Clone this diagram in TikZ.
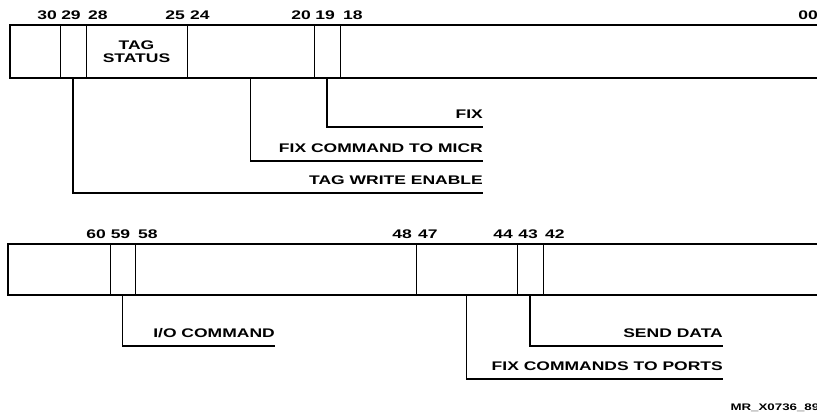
\documentclass[tikz,border=0pt]{standalone}
\usepackage{fontspec}
\setmainfont{Liberation Sans}[FakeStretch=1.4]
\usetikzlibrary{positioning, fit}
\tikzset{
    field/.style = {rectangle, draw=black, line width=0.9pt, minimum height=53pt, inner sep=0pt, outer sep=0pt, align=center},
    frame/.style = {rectangle, draw=black, line width=1.8pt, inner sep=0pt},
    bitno/.style = {inner sep=0pt, yshift=5.5pt},
    sig/.style = {anchor=south east, inner xsep=0pt, inner ysep=8pt},
    leader/.style = {line width=1.1pt}
}

\begin{document}
\begin{tikzpicture}[x=1pt, y=1pt, font=\bfseries\fontsize{12.5}{13}\selectfont]
\useasboundingbox (0,0) rectangle (817,-415);

% --- UPPER REGISTER (BITS 31:00) ---
\node (f31) [field, minimum width=50pt, anchor=north west] at (10,-25) {};
\node (f29) [field, minimum width=26pt, right=0pt of f31] {};
\node (ftag) [field, minimum width=101pt, right=0pt of f29] {TAG\\STATUS};
\node (f24) [field, minimum width=127pt, right=0pt of ftag] {};
\node (f19) [field, minimum width=26pt, right=0pt of f24] {};
\node (f18) [field, minimum width=490pt, right=0pt of f19] {};
\node (upper) [frame, fit=(f31) (f18)] {};

% bit numbers
\node (b30) [bitno, anchor=south east, xshift=-3pt] at (f31.north east) {30};
\node (b29) [bitno, anchor=south, xshift=-2pt] at (f29.north) {29};
\node (b28) [bitno, anchor=south west, xshift=2pt] at (f29.north east) {28};
\node (b25) [bitno, anchor=south east, xshift=-2pt] at (ftag.north east) {25};
\node (b24) [bitno, anchor=south west, xshift=3pt] at (ftag.north east) {24};
\node (b20) [bitno, anchor=south east, xshift=-3pt] at (f24.north east) {20};
\node (b19) [bitno, anchor=south, xshift=-2pt] at (f19.north) {19};
\node (b18) [bitno, anchor=south west, xshift=3pt] at (f19.north east) {18};
\node (b00) [bitno, anchor=south east, xshift=-12pt] at (f18.north east) {00};

% --- UPPER FIELD NAMES ---
\node (fix) [sig] at (483,-127) {FIX};
\node (fixmicr) [sig] at (483,-161) {FIX COMMAND TO MICR};
\node (tagwe) [sig] at (483,-193) {TAG WRITE ENABLE};

\draw [leader] (f19.south) |- (fix.south east);
\draw [leader] (f24.south) |- (fixmicr.south east);
\draw [leader] (f29.south) |- (tagwe.south east);

% --- LOWER REGISTER (BITS 63:32) ---
\node (g60) [field, minimum width=102pt, minimum height=51pt, anchor=north west] at (8,-244) {};
\node (g59) [field, minimum width=25pt, minimum height=51pt, right=0pt of g60] {};
\node (g58) [field, minimum width=281pt, minimum height=51pt, right=0pt of g59] {};
\node (g47) [field, minimum width=101pt, minimum height=51pt, right=0pt of g58] {};
\node (g43) [field, minimum width=26pt, minimum height=51pt, right=0pt of g47] {};
\node (g42) [field, minimum width=287pt, minimum height=51pt, right=0pt of g43] {};
\node (lower) [frame, fit=(g60) (g42)] {};

% bit numbers
\node (b60) [bitno, anchor=south east, xshift=-4pt] at (g60.north east) {60};
\node (b59) [bitno, anchor=south, xshift=-2pt] at (g59.north) {59};
\node (b58) [bitno, anchor=south west, xshift=3pt] at (g59.north east) {58};
\node (b48) [bitno, anchor=south east, xshift=-4pt] at (g58.north east) {48};
\node (b47) [bitno, anchor=south west, xshift=2pt] at (g58.north east) {47};
\node (b44) [bitno, anchor=south east, xshift=-4pt] at (g47.north east) {44};
\node (b43) [bitno, anchor=south, xshift=-2pt] at (g43.north) {43};
\node (b42) [bitno, anchor=south west, xshift=2pt] at (g43.north east) {42};

% --- LOWER FIELD NAMES ---
\node (iocmd) [sig] at (275,-346) {I/O COMMAND};
\node (send) [sig] at (723,-346) {SEND DATA};
\node (fixports) [sig] at (723,-379) {FIX COMMANDS TO PORTS};

\draw [leader] (g59.south) |- (iocmd.south east);
\draw [leader] (g43.south) |- (send.south east);
\draw [leader] (g47.south) |- (fixports.south east);

\node (figid) [anchor=west, font=\bfseries\fontsize{9.5}{10}\selectfont] at (727,-408) {MR\_X0736\_89};

\end{tikzpicture}
\end{document}
